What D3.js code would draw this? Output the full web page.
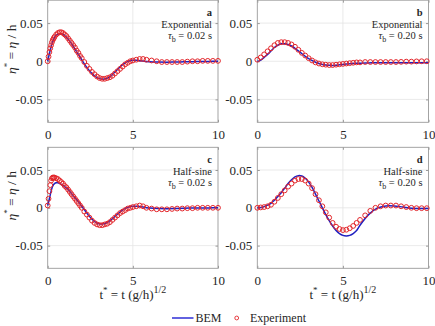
<!DOCTYPE html>
<html>
<head>
<meta charset="utf-8">
<script src="https://d3js.org/d3.v7.min.js"></script>
<style>
    body { margin: 0; background: #fff; }
    svg text { font-family: "Liberation Serif", "Times New Roman", serif; fill: #262626; }
</style>
</head>
<body>
<div id="graph"></div>
<script>

// BEM time grid, shared by the four panels
const tBem = [0, 0.1, 0.2, 0.3, 0.4, 0.5, 0.6, 0.8, 1.0, 1.2, 1.4, 1.6, 1.8, 2.0, 2.2, 2.4, 2.6, 2.8, 3.0, 3.2, 3.4,
    3.6, 3.8, 4.0, 4.2, 4.4, 4.6, 4.8, 5.0, 5.2, 5.4, 5.6, 5.8, 6.0, 6.5, 7.0, 7.5, 8.0, 8.5, 9.0, 9.5, 10];

const bemA = [0, 0.010, 0.019, 0.026, 0.031, 0.034, 0.0355, 0.036, 0.0335, 0.029, 0.023, 0.016, 0.009, 0.002, -0.005,
    -0.011, -0.016, -0.020, -0.0225, -0.0235, -0.023, -0.021, -0.0175, -0.013, -0.0085, -0.0045, -0.0015, 0.0005,
    0.0012, 0.0012, 0.0008, 0.0003, -0.0002, -0.0006, -0.001, -0.0012, -0.001, -0.0008, -0.0005, -0.0003, -0.0002, -0.0001];
const bemB = [0, 0.0005, 0.0015, 0.003, 0.005, 0.007, 0.009, 0.0135, 0.018, 0.021, 0.0228, 0.023, 0.022, 0.020, 0.017,
    0.0135, 0.010, 0.0065, 0.0035, 0.001, -0.0013, -0.003, -0.0043, -0.005, -0.0054, -0.0055, -0.0052, -0.0047,
    -0.0042, -0.0037, -0.0032, -0.0029, -0.0027, -0.0025, -0.0022, -0.002, -0.002, -0.002, -0.002, -0.002, -0.002, -0.002];
const bemC = [0.003, 0.012, 0.022, 0.029, 0.032, 0.033, 0.033, 0.031, 0.028, 0.024, 0.019, 0.0135, 0.008, 0.002, -0.004,
    -0.010, -0.015, -0.019, -0.021, -0.0215, -0.0205, -0.018, -0.0145, -0.0105, -0.0065, -0.003, -0.0005, 0.0012,
    0.002, 0.0022, 0.0018, 0.001, 0.0002, -0.0004, -0.001, -0.0012, -0.001, -0.0006, -0.0003, -0.0002, -0.0001, 0];
const bemD = [0, 0, 0.0003, 0.0008, 0.0015, 0.0025, 0.0035, 0.006, 0.010, 0.015, 0.020, 0.026, 0.032, 0.037, 0.041,
    0.0425, 0.042, 0.039, 0.034, 0.027, 0.018, 0.009, 0.000, -0.009, -0.017, -0.024, -0.030, -0.034, -0.0365,
    -0.0372, -0.0365, -0.034, -0.030, -0.023, -0.009, -0.0005, 0.0025, 0.0025, 0.001, -0.0005, -0.001, -0.001];

// experiment sample times (short pulse panels are sampled more finely)
const tExpFine = [0, 0.05, 0.1, 0.15, 0.2, 0.25, 0.3, 0.35, 0.4, 0.5, 0.6, 0.7, 0.8, 0.9, 1.0, 1.1, 1.2, 1.3, 1.4, 1.5,
    1.6, 1.7, 1.8, 1.9, 2.0, 2.15, 2.3, 2.45, 2.6, 2.75, 2.9, 3.05, 3.2, 3.35, 3.5, 3.65, 3.8, 3.95, 4.1, 4.25, 4.4,
    4.55, 4.7, 4.85, 5.0, 5.2, 5.4, 5.6, 5.8, 6.1, 6.4, 6.7, 7.0, 7.3, 7.6, 7.9, 8.2, 8.5, 8.8, 9.1, 9.4, 9.7, 10];
const tExpCoarse = [0, 0.2, 0.4, 0.6, 0.8, 1.0, 1.2, 1.4, 1.6, 1.8, 2.0, 2.2, 2.4, 2.6, 2.8, 3.0, 3.2, 3.4, 3.6, 3.8,
    4.0, 4.2, 4.4, 4.6, 4.8, 5.0, 5.2, 5.4, 5.6, 5.8, 6.0, 6.3, 6.6, 6.9, 7.2, 7.5, 7.8, 8.1, 8.4, 8.7, 9.0, 9.3, 9.6, 9.9];

const expA = [0, 0.006, 0.012, 0.017, 0.021, 0.025, 0.028, 0.030, 0.032, 0.035, 0.037, 0.038, 0.038, 0.037, 0.035,
    0.033, 0.030, 0.027, 0.024, 0.021, 0.018, 0.014, 0.011, 0.007, 0.004, -0.001, -0.006, -0.010, -0.014, -0.017,
    -0.020, -0.022, -0.023, -0.023, -0.022, -0.021, -0.019, -0.016, -0.013, -0.010, -0.007, -0.004, -0.002, 0.000,
    0.001, 0.002, 0.003, 0.003, 0.002, 0.001, 0.000, -0.001, -0.001, -0.001, -0.001, -0.001, -0.0005, 0, 0,
    0.0005, 0.0005, 0.0005, 0.0005];
const expB = [0.002, 0.005, 0.009, 0.013, 0.017, 0.021, 0.024, 0.025, 0.025, 0.024, 0.022, 0.019, 0.015, 0.011, 0.0075,
    0.004, 0.001, -0.0015, -0.003, -0.004, -0.0045, -0.005, -0.005, -0.0045, -0.004, -0.0035, -0.003, -0.0025, -0.002,
    -0.0015, -0.0015, -0.001, -0.001, -0.001, -0.001, -0.001, -0.001, -0.001, -0.0008, -0.0005, -0.0005, -0.0002, 0, 0];
const expC = [0.003, 0.012, 0.022, 0.030, 0.036, 0.039, 0.040, 0.040, 0.040, 0.039, 0.038, 0.036, 0.034, 0.032, 0.029,
    0.027, 0.024, 0.021, 0.018, 0.015, 0.012, 0.009, 0.006, 0.003, 0.000, -0.005, -0.009, -0.013, -0.017, -0.020,
    -0.022, -0.023, -0.023, -0.022, -0.021, -0.019, -0.016, -0.013, -0.010, -0.007, -0.005, -0.003, -0.001, 0.000,
    0.001, 0.002, 0.003, 0.002, 0.000, -0.001, -0.002, -0.002, -0.002, -0.0015, -0.001, -0.001, -0.0005, -0.0005,
    0, 0, 0, 0, 0];
const expD = [0, 0.0005, 0.001, 0.002, 0.004, 0.008, 0.013, 0.018, 0.023, 0.028, 0.032, 0.036, 0.038, 0.038, 0.036,
    0.032, 0.026, 0.018, 0.010, 0.002, -0.006, -0.013, -0.020, -0.025, -0.028, -0.0295, -0.029, -0.027, -0.024, -0.020,
    -0.016, -0.010, -0.004, 0.000, 0.002, 0.003, 0.003, 0.003, 0.002, 0.001, 0.000, -0.0005, -0.0005, -0.0005];

const panelLetters = ['a', 'b', 'c', 'd'];
const pulseNames = ['Exponential', 'Exponential', 'Half-sine', 'Half-sine'];
const tauLabels = ['0.02', '0.20', '0.02', '0.20'];
const xTicks = [0, 5, 10];
const yTicks = [-0.05, 0, 0.05];
const legendLabels = ['BEM', 'Experiment'];

const bemSeries = [bemA, bemB, bemC, bemD];
const expSeries = [expA, expB, expC, expD];
const expTimes = [tExpFine, tExpCoarse, tExpFine, tExpCoarse];

const serif = '"Liberation Serif", "Times New Roman", serif';
const lineColor = "#2020c0";
const dotColor = "#e3262b";
const boxColor = "#9a9a9a";

// pixel boxes of the 2x2 grid
const cols = [[47.7, 218], [257.3, 428.5]];
const rows = [[0.2, 122.3], [147.3, 268.3]];

var svg = d3.select("#graph")
    .append("svg")
    .attr("width", 435)
    .attr("height", 326)
    .attr("font-family", serif);

function drawPanel(i) {
    let col = cols[i % 2], row = rows[Math.floor(i / 2)];
    let x = d3.scaleLinear().domain([0, 10]).range(col);
    let y = d3.scaleLinear().domain([-0.08, 0.08]).range([row[1], row[0]]);
    let g = svg.append("g");

    // grid
    g.selectAll(".gx").data(xTicks.slice(1, -1)).enter().append("line")
        .attr("x1", d => x(d)).attr("x2", d => x(d))
        .attr("y1", row[0]).attr("y2", row[1])
        .attr("stroke", "#e4e4e4").attr("stroke-width", 0.8);
    g.selectAll(".gy").data(yTicks).enter().append("line")
        .attr("x1", col[0]).attr("x2", col[1])
        .attr("y1", d => y(d)).attr("y2", d => y(d))
        .attr("stroke", "#e4e4e4").attr("stroke-width", 0.8);

    // axes (inward ticks, matlab style box)
    g.append("g").attr("transform", `translate(0,${row[1]})`)
        .call(d3.axisBottom(x).tickValues(xTicks).tickSizeInner(-2.5).tickSizeOuter(0).tickPadding(7))
        .call(a => a.select(".domain").remove());
    g.append("g").attr("transform", `translate(${col[0]},0)`)
        .call(d3.axisLeft(y).tickValues(yTicks).tickSizeInner(-2.5).tickSizeOuter(0).tickPadding(5)
            .tickFormat(d => d === 0 ? "0" : d3.format(".2f")(d).replace("−", "-")))
        .call(a => a.select(".domain").remove());
    g.append("g").attr("transform", `translate(0,${row[0]})`)
        .call(d3.axisTop(x).tickValues(xTicks).tickSizeInner(-2.5).tickSizeOuter(0).tickFormat(""))
        .call(a => a.select(".domain").remove());
    g.append("g").attr("transform", `translate(${col[1]},0)`)
        .call(d3.axisRight(y).tickValues(yTicks).tickSizeInner(-2.5).tickSizeOuter(0).tickFormat(""))
        .call(a => a.select(".domain").remove());
    g.selectAll("g").attr("font-family", serif).attr("font-size", 13);
    g.selectAll(".tick line").attr("stroke", boxColor);
    g.selectAll(".tick text").attr("fill", "#262626");

    g.append("rect")
        .attr("x", col[0]).attr("y", row[0])
        .attr("width", col[1] - col[0]).attr("height", row[1] - row[0])
        .attr("fill", "none").attr("stroke", boxColor).attr("stroke-width", 0.9);

    // BEM line
    let line = d3.line()
        .x((d, k) => x(tBem[k]))
        .y(d => y(d))
        .curve(d3.curveCatmullRom);
    g.append("path")
        .datum(bemSeries[i])
        .attr("d", line)
        .attr("fill", "none")
        .attr("stroke", lineColor)
        .attr("stroke-width", 1.5);

    // experiment circles
    g.selectAll(".dot").data(expSeries[i]).enter().append("circle")
        .attr("cx", (d, k) => x(expTimes[i][k]))
        .attr("cy", d => y(d))
        .attr("r", 2.4)
        .attr("fill", "none")
        .attr("stroke", dotColor)
        .attr("stroke-width", 1);

    // panel annotation, right aligned
    let ax = col[1] - 6;
    g.append("text").attr("x", ax).attr("y", row[0] + 16)
        .style("text-anchor", "end").style("font-size", "10.5px").style("font-weight", "bold")
        .text(panelLetters[i]);
    g.append("text").attr("x", ax).attr("y", row[0] + 28)
        .style("text-anchor", "end").style("font-size", "10.5px")
        .text(pulseNames[i]);
    let tau = g.append("text").attr("x", ax).attr("y", row[0] + 39)
        .style("text-anchor", "end").style("font-size", "10.5px");
    tau.append("tspan").style("font-style", "italic").text("τ");
    tau.append("tspan").attr("dy", 3).style("font-size", "8px").text("b");
    tau.append("tspan").attr("dy", -3).text(" = " + tauLabels[i] + " s");

    // y label on left column
    if (i % 2 === 0) {
        let yl = svg.append("text")
            .attr("transform", `translate(16, ${(row[0] + row[1]) / 2 - 12}) rotate(-90)`)
            .style("text-anchor", "middle")
            .style("font-size", "13.5px");
        yl.append("tspan").style("font-style", "italic").text("η");
        yl.append("tspan").attr("dy", -6).style("font-size", "9px").text("*");
        yl.append("tspan").attr("dy", 6).text(" = ");
        yl.append("tspan").style("font-style", "italic").text("η");
        yl.append("tspan").text(" / h");
    }

    // x label on bottom row
    if (i >= 2) {
        let xl = svg.append("text")
            .attr("x", x(5)).attr("y", 299)
            .style("text-anchor", "middle")
            .style("font-size", "13px");
        xl.append("tspan").text("t");
        xl.append("tspan").attr("dy", -6).style("font-size", "9px").text("*");
        xl.append("tspan").attr("dy", 6).text(" = t (g/h)");
        xl.append("tspan").attr("dy", -6).style("font-size", "10px").text("1/2");
    }
}

[0, 1, 2, 3].forEach(drawPanel);

// legend
let legend = svg.append("g").attr("transform", "translate(0,318)");
legend.append("line")
    .attr("x1", 172).attr("x2", 193.5).attr("y1", 0).attr("y2", 0)
    .attr("stroke", "#3a3ad8").attr("stroke-width", 1.6);
legend.append("text").attr("x", 195.5).attr("y", 4).style("font-size", "12px").text(legendLabels[0]);
legend.append("circle").attr("cx", 236.7).attr("cy", 0).attr("r", 1.9)
    .attr("fill", "none").attr("stroke", dotColor).attr("stroke-width", 0.9);
legend.append("text").attr("x", 250).attr("y", 4).style("font-size", "12px").text(legendLabels[1]);

</script>
</body>
</html>
